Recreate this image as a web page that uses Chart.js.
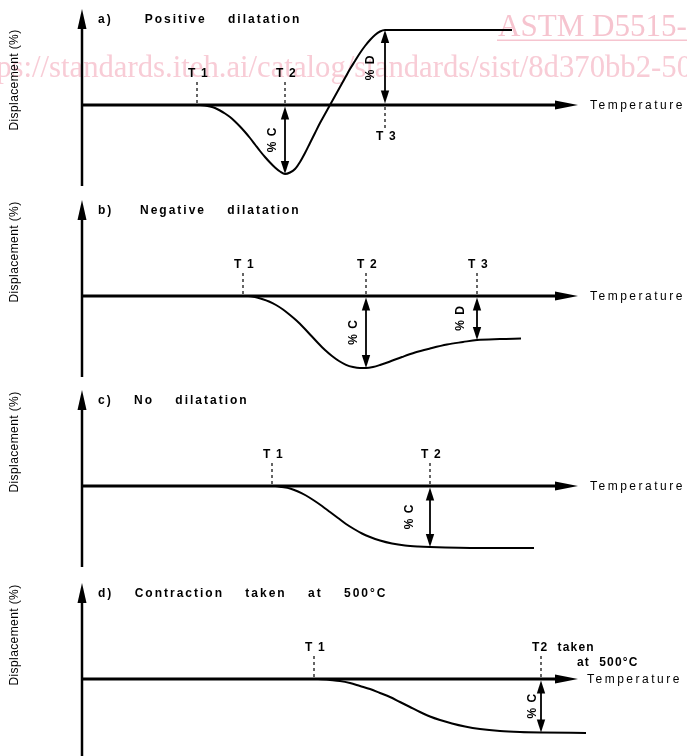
<!DOCTYPE html>
<html><head><meta charset="utf-8">
<script src="https://cdn.jsdelivr.net/npm/chart.js@4.4.1/dist/chart.umd.min.js"></script>
<style>
html,body{margin:0;padding:0;background:#fff;}
body{width:687px;height:756px;overflow:hidden;position:relative;}
canvas{position:absolute;left:0;}
</style></head>
<body>
<canvas id="ca" width="687" height="190" style="top:5px"></canvas>
<canvas id="cb" width="687" height="190" style="top:196px"></canvas>
<canvas id="cc" width="687" height="190" style="top:386px"></canvas>
<canvas id="cd" width="687" height="190" style="top:579px"></canvas>
<script>
// ---------------- DATA (arbitrary temperature / displacement units) ----------------
const xAxisLabel = 'Temperature';
const yAxisLabel = 'Displacement (%)';
const watermarkTitle = 'ASTM D5515-';
const watermarkUrl = 'https://standards.iteh.ai/catalog/standards/sist/8d370bb2-50';
const tempMax = 99.2;

// a) Positive dilatation
const aTitle = 'a)      Positive    dilatation';
const aTemp = [0, 23.6, 24.6, 25.6, 26.6, 27.6, 28.6, 29.6, 30.6, 31.6, 32.6, 33.6, 34.6, 35.6, 36.6, 37.6, 38.6, 39.6, 40.6, 41.6, 42.6, 43.6, 44.6, 45.6, 46.6, 47.6, 48.6, 49.6, 50.6, 51.6, 52.6, 53.6, 54.6, 55.6, 56.6, 57.6, 58.6, 59.6, 60.6, 86.0];
const aDisp = [0, 0, -0.5, -1.5, -3, -5.5, -8.5, -12, -16.5, -21.5, -27, -33, -39.5, -46, -52, -57.5, -62.5, -66.5, -69, -67.5, -64, -57, -48, -38, -28, -18, -9, 0, 9, 18, 27, 36, 44, 52, 59, 65, 70, 73.5, 75, 75];
const aMarkLabels = ['T 1', 'T 2', 'T 3'];
const aMarkTemps = [23.0, 40.6, 60.6];
const aGaugeLabels = ['% C', '% D'];
const aGaugeTemps = [40.6, 60.6];
const aGaugeValues = [-69, 75];

// b) Negative dilatation
const bTitle = 'b)     Negative    dilatation';
const bTemp = [0, 33.2, 34.6, 36.0, 37.4, 38.8, 40.2, 41.6, 43.0, 44.4, 45.8, 47.2, 48.6, 50.0, 51.4, 52.8, 54.2, 55.6, 56.8, 58.2, 59.6, 61.6, 64.0, 66.6, 69.6, 73.0, 76.2, 79.0, 83.6, 87.8];
const bDisp = [0, 0, -1, -3, -5.5, -9, -13.5, -19, -25, -32, -39.5, -47, -54, -60, -65, -68.8, -71, -72, -72, -71, -69, -65.5, -61, -56.5, -52.5, -48.5, -46, -44, -43, -42.5];
const bMarkLabels = ['T 1', 'T 2', 'T 3'];
const bMarkTemps = [32.2, 56.8, 79.0];
const bGaugeLabels = ['% C', '% D'];
const bGaugeTemps = [56.8, 79.0];
const bGaugeValues = [-72, -44];

// c) No dilatation
const cTitle = 'c)    No    dilatation';
const cTemp = [0, 38.6, 40.0, 41.6, 43.2, 44.8, 46.4, 48.0, 49.6, 51.2, 52.8, 54.4, 56.0, 57.6, 59.6, 62.0, 64.6, 67.2, 69.6, 79.6, 90.4];
const cDisp = [0, 0, -1, -2.5, -5.5, -9.5, -14.5, -20, -26, -32, -38, -43, -47.5, -51, -54.5, -57.5, -59.5, -60.5, -61, -62, -62];
const cMarkLabels = ['T 1', 'T 2'];
const cMarkTemps = [38.0, 69.6];
const cGaugeLabels = ['% C'];
const cGaugeTemps = [69.6];
const cGaugeValues = [-61];

// d) Contraction taken at 500°C
const dTitle = 'd)    Contraction    taken    at    500°C';
const dTemp = [0, 47.2, 49.6, 51.6, 53.6, 55.6, 57.6, 59.6, 61.6, 63.6, 65.6, 67.6, 69.6, 71.6, 74.0, 76.6, 79.6, 83.6, 87.6, 91.8, 100.8];
const dDisp = [0, 0, -1, -2, -4, -7, -10, -14, -18, -23, -28, -33, -37.5, -41, -44.5, -47.5, -50, -52, -53, -53.5, -54];
const dMarkLabels = ['T 1', 'T2  taken'];
const dMarkTemps = [46.4, 91.8];
const dMarkNotes = ['', 'at  500°C'];
const dGaugeLabels = ['% C'];
const dGaugeTemps = [91.8];
const dGaugeValues = [-53.5];

// ---------------- DRAWING ----------------
const FONT = '"Liberation Sans", Arial, Helvetica, sans-serif';
const SERIF = '"Liberation Serif", "Times New Roman", serif';

function tri(ctx, tipX, tipY, dx, dy, len, half) {
  const bx = tipX - dx * len, by = tipY - dy * len;
  const px = -dy, py = dx;
  ctx.beginPath();
  ctx.moveTo(tipX, tipY);
  ctx.lineTo(bx + px * half, by + py * half);
  ctx.lineTo(bx - px * half, by - py * half);
  ctx.closePath();
  ctx.fill();
}
function txt(ctx, s, x, y, font, ls, align, rot, color) {
  ctx.save();
  ctx.font = font;
  ctx.letterSpacing = (ls || 0) + 'px';
  ctx.textAlign = align || 'left';
  ctx.textBaseline = 'middle';
  ctx.fillStyle = color || '#000';
  ctx.translate(x, y);
  if (rot) ctx.rotate(rot);
  ctx.fillText(s, 0, 0);
  ctx.restore();
}
function fitSize(ctx, s, family, width) {
  ctx.font = '100px ' + family;
  return 100 * width / ctx.measureText(s).width;
}

const diagramPlugin = {
  id: 'diagram',
  beforeDatasetsDraw(chart, args, o) {
    const ctx = chart.ctx, xs = chart.scales.x, ys = chart.scales.y, ca = chart.chartArea;
    const x0 = xs.getPixelForValue(0), y0 = ys.getPixelForValue(0);
    ctx.save();
    if (o.watermark) {
      const off = o.canvasTop;
      ctx.textBaseline = 'alphabetic';
      ctx.textAlign = 'left';
      ctx.letterSpacing = '0px';
      const s1 = fitSize(ctx, watermarkTitle, SERIF, 189);
      ctx.font = s1 + 'px ' + SERIF;
      ctx.fillStyle = '#f6c4cf';
      ctx.fillText(watermarkTitle, 498, 36 - off);
      ctx.fillRect(497, 39.5 - off, 192, 1.5);
      const visible = watermarkUrl.slice(watermarkUrl.indexOf('ps:'));
      const s2 = fitSize(ctx, visible, SERIF, 696);
      ctx.font = s2 + 'px ' + SERIF;
      ctx.fillStyle = '#f8ccd6';
      ctx.textAlign = 'right';
      ctx.fillText(watermarkUrl, 692, 77 - off);
    }
    ctx.fillStyle = '#000';
    ctx.strokeStyle = '#000';
    // y axis
    ctx.lineWidth = 2.5;
    ctx.beginPath(); ctx.moveTo(x0, ca.bottom); ctx.lineTo(x0, ca.top + 14); ctx.stroke();
    tri(ctx, x0, ca.top, 0, -1, 20, 4.5);
    // x axis
    const xr = xs.getPixelForValue(tempMax);
    ctx.lineWidth = 3;
    ctx.beginPath(); ctx.moveTo(x0, y0); ctx.lineTo(xr - 14, y0); ctx.stroke();
    tri(ctx, xr, y0, 1, 0, 23, 4.5);
    ctx.restore();
    // texts
    txt(ctx, xAxisLabel, xr + o.tempGap, y0 + 1, '12px ' + FONT, 2.5);
    txt(ctx, yAxisLabel, 15, y0 + o.yLabelOffset, '12px ' + FONT, 0.4, 'center', -Math.PI / 2);
    txt(ctx, o.title, x0 + 16, y0 - 85, 'bold 12px ' + FONT, 2);
  },
  afterDatasetsDraw(chart, args, o) {
    const ctx = chart.ctx, xs = chart.scales.x, ys = chart.scales.y;
    const y0 = ys.getPixelForValue(0);
    ctx.save();
    ctx.strokeStyle = '#000'; ctx.fillStyle = '#000';
    // dashed T markers
    o.markTemps.forEach((t, i) => {
      const x = xs.getPixelForValue(t);
      const below = o.markBelow && o.markBelow[i];
      ctx.save();
      ctx.lineWidth = 1.2; ctx.setLineDash([3, 3]);
      ctx.beginPath();
      if (below) { ctx.moveTo(x, y0 + 2); ctx.lineTo(x, y0 + 23); }
      else { ctx.moveTo(x, y0 - 23); ctx.lineTo(x, y0 - 2); }
      ctx.stroke();
      ctx.restore();
      const ly = below ? y0 + 32 : y0 - 31;
      txt(ctx, o.markLabels[i], x - 9, ly, 'bold 12px ' + FONT, 1.2);
      if (o.markNotes && o.markNotes[i]) txt(ctx, o.markNotes[i], x + 36, ly + 15, 'bold 12px ' + FONT, 1.2);
    });
    // double arrows (gauges)
    o.gaugeTemps.forEach((t, i) => {
      const x = xs.getPixelForValue(t);
      const yv = ys.getPixelForValue(o.gaugeValues[i]);
      const dir = yv > y0 ? 1 : -1;
      ctx.lineWidth = 1.8;
      ctx.beginPath(); ctx.moveTo(x, y0 + dir * 8); ctx.lineTo(x, yv - dir * 8); ctx.stroke();
      tri(ctx, x, y0 + dir * 1.5, 0, -dir, 13, 4.2);
      tri(ctx, x, yv, 0, dir, 13, 4.2);
      txt(ctx, o.gaugeLabels[i], x + o.gaugeLabelOffset[i], (y0 + yv) / 2, 'bold 12px ' + FONT, 1, 'center', -Math.PI / 2);
    });
    ctx.restore();
  }
};

function makePanel(id, canvasTop, title, temp, disp, extra) {
  const pts = temp.map((t, i) => ({ x: t, y: disp[i] }));
  return new Chart(document.getElementById(id), {
    type: 'line',
    data: { datasets: [{ data: pts, borderColor: '#000', borderWidth: 2, pointRadius: 0, cubicInterpolationMode: 'monotone', fill: false, clip: false }] },
    options: {
      responsive: false, animation: false, events: [],
      layout: { padding: { left: 82, right: 109, top: 4, bottom: 9 } },
      scales: {
        x: { type: 'linear', min: 0, max: tempMax, display: false },
        y: { type: 'linear', min: -81, max: 96, display: false }
      },
      plugins: {
        legend: { display: false }, tooltip: { enabled: false },
        diagram: Object.assign({ title, canvasTop, tempGap: 12, yLabelOffset: -44 }, extra)
      }
    },
    plugins: [diagramPlugin]
  });
}

makePanel('ca', 5, aTitle, aTemp, aDisp, {
  watermark: true, yLabelOffset: -25,
  markLabels: aMarkLabels, markTemps: aMarkTemps, markBelow: [false, false, true],
  gaugeLabels: aGaugeLabels, gaugeTemps: aGaugeTemps, gaugeValues: aGaugeValues, gaugeLabelOffset: [-12, -14]
});
makePanel('cb', 196, bTitle, bTemp, bDisp, {
  markLabels: bMarkLabels, markTemps: bMarkTemps,
  gaugeLabels: bGaugeLabels, gaugeTemps: bGaugeTemps, gaugeValues: bGaugeValues, gaugeLabelOffset: [-12, -16]
});
makePanel('cc', 386, cTitle, cTemp, cDisp, {
  markLabels: cMarkLabels, markTemps: cMarkTemps,
  gaugeLabels: cGaugeLabels, gaugeTemps: cGaugeTemps, gaugeValues: cGaugeValues, gaugeLabelOffset: [-20]
});
makePanel('cd', 579, dTitle, dTemp, dDisp, {
  tempGap: 9,
  markLabels: dMarkLabels, markTemps: dMarkTemps, markNotes: dMarkNotes,
  gaugeLabels: dGaugeLabels, gaugeTemps: dGaugeTemps, gaugeValues: dGaugeValues, gaugeLabelOffset: [-8]
});
</script>
</body></html>
